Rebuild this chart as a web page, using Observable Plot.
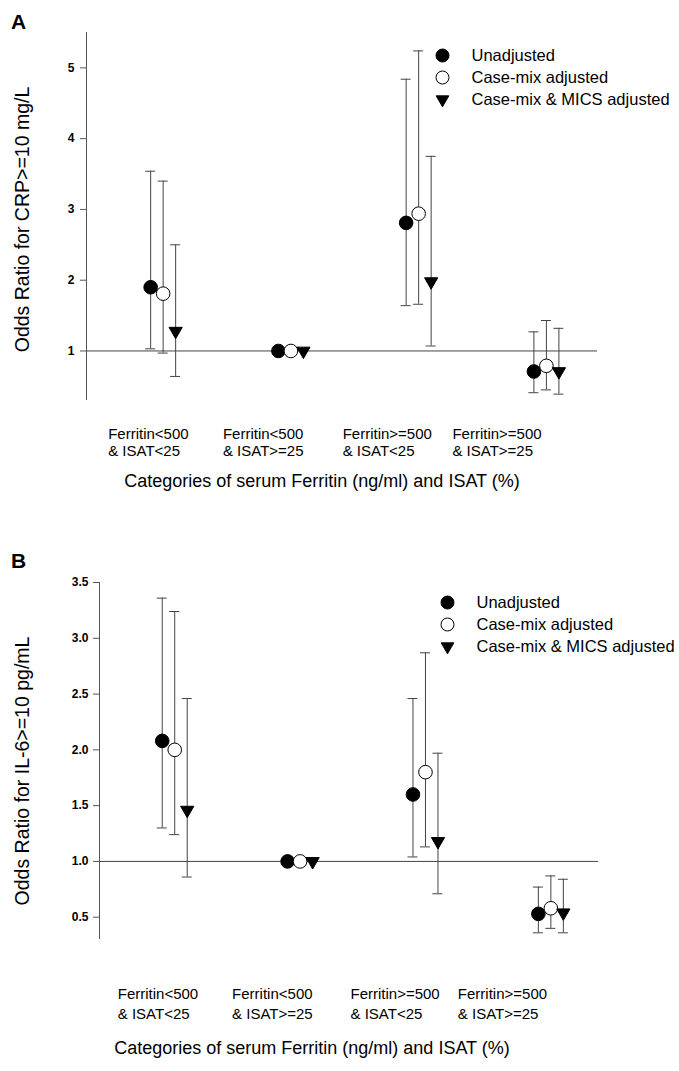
<!DOCTYPE html>
<html>
<head>
<meta charset="utf-8">
<script src="https://cdn.jsdelivr.net/npm/d3@7"></script>
<script src="https://cdn.jsdelivr.net/npm/@observablehq/plot@0.6"></script>
<style>
  html, body { margin: 0; padding: 0; background: #fff; }
  #chart svg { display: block; }
</style>
</head>
<body>
<div id="chart"></div>
<script>
// ---------- data ----------
const categories = ["Ferritin<500\n& ISAT<25", "Ferritin<500\n& ISAT>=25", "Ferritin>=500\n& ISAT<25", "Ferritin>=500\n& ISAT>=25"];
const seriesNames = ["Unadjusted", "Case-mix adjusted", "Case-mix & MICS adjusted"];
const xTitle = "Categories of serum Ferritin (ng/ml) and ISAT (%)";

// Panel A: CRP >= 10 mg/L
const crpUnadj   = [1.90, 1.00, 2.81, 0.71];
const crpUnadjLo = [1.03, 1.00, 1.64, 0.41];
const crpUnadjHi = [3.54, 1.00, 4.84, 1.27];
const crpCase    = [1.81, 1.00, 2.94, 0.79];
const crpCaseLo  = [0.97, 1.00, 1.66, 0.45];
const crpCaseHi  = [3.40, 1.00, 5.24, 1.43];
const crpMics    = [1.28, 1.00, 1.98, 0.71];
const crpMicsLo  = [0.64, 1.00, 1.07, 0.39];
const crpMicsHi  = [2.50, 1.00, 3.75, 1.32];
const crpTicks   = [1, 2, 3, 4, 5];

// Panel B: IL-6 >= 10 pg/mL
const il6Unadj   = [2.08, 1.00, 1.60, 0.53];
const il6UnadjLo = [1.30, 1.00, 1.04, 0.36];
const il6UnadjHi = [3.36, 1.00, 2.46, 0.77];
const il6Case    = [2.00, 1.00, 1.80, 0.58];
const il6CaseLo  = [1.24, 1.00, 1.13, 0.40];
const il6CaseHi  = [3.24, 1.00, 2.87, 0.87];
const il6Mics    = [1.46, 1.00, 1.18, 0.54];
const il6MicsLo  = [0.86, 1.00, 0.71, 0.36];
const il6MicsHi  = [2.46, 1.00, 1.97, 0.84];
const il6Ticks   = [0.5, 1.0, 1.5, 2.0, 2.5, 3.0, 3.5];

// ---------- styling ----------
const FONT = "'Liberation Sans', Arial, Helvetica, sans-serif";
const triangleDown = {
  draw(context, size) {
    const s = Math.sqrt(size);
    const w = s * 0.55, h = s * 0.95;
    context.moveTo(-w, -h / 3);
    context.lineTo(w, -h / 3);
    context.lineTo(0, 2 * h / 3);
    context.closePath();
  }
};
const seriesStyle = [
  {symbol: "circle", fill: "black", stroke: "black", dx: -12.5},
  {symbol: "circle", fill: "white", stroke: "black", dx: 0},
  {symbol: triangleDown, fill: "black", stroke: "black", dx: 12.5}
];
const labelDx = [-55, -68, -76, -94];

function rows(v, lo, hi) {
  return categories.map((c, i) => ({cat: i + 1, label: c, v: v[i], lo: lo[i], hi: hi[i]}));
}

function panel(cfg) {
  const marks = [];
  // y axis line
  marks.push(Plot.ruleX([cfg.xDomain[0]], {stroke: "#555", strokeWidth: 1}));
  marks.push(Plot.axisY({ticks: cfg.ticks, tickSize: 6, tickPadding: cfg.tickPadding, tickFormat: cfg.tickFormat,
    fontSize: 12, fontWeight: "bold", label: null, stroke: "#555", fill: "black"}));
  // reference line at OR = 1
  marks.push(Plot.ruleY([1], {stroke: "#444", strokeWidth: 1}));
  cfg.series.forEach((s, k) => {
    const st = seriesStyle[k];
    const ci = s.filter(d => d.lo !== d.hi);
    marks.push(Plot.ruleX(ci, {x: "cat", y1: "lo", y2: "hi", dx: st.dx, stroke: "#444", strokeWidth: 1}));
    marks.push(Plot.ruleY(ci, {y: "hi", x1: "cat", x2: "cat", insetLeft: -5, insetRight: -5, dx: st.dx, stroke: "#444", strokeWidth: 1}));
    marks.push(Plot.ruleY(ci, {y: "lo", x1: "cat", x2: "cat", insetLeft: -5, insetRight: -5, dx: st.dx, stroke: "#444", strokeWidth: 1}));
  });
  cfg.series.forEach((s, k) => {
    const st = seriesStyle[k];
    marks.push(Plot.dot(s, {x: "cat", y: "v", r: 6.8, symbol: () => st.symbol, fill: st.fill, stroke: st.stroke, strokeWidth: 1, dx: st.dx}));
  });
  // legend
  seriesNames.forEach((name, k) => {
    const st = seriesStyle[k];
    marks.push(Plot.dot([name], {frameAnchor: "top-left", dx: cfg.legend.dx, dy: cfg.legend.dy + k * 22,
      r: 6.5, symbol: () => st.symbol, fill: st.fill, stroke: st.stroke, strokeWidth: 1}));
    marks.push(Plot.text([name], {frameAnchor: "top-left", dx: cfg.legend.dx + 29, dy: cfg.legend.dy + k * 22,
      text: d => d, textAnchor: "start", lineAnchor: "middle", fontSize: 16.5, fill: "black"}));
  });
  // category labels
  categories.forEach((c, i) => {
    marks.push(Plot.text([c], {x: () => i + 1, frameAnchor: "bottom", text: d => d, textAnchor: "start",
      lineAnchor: "top", dx: labelDx[i] + cfg.labelShift[i], dy: cfg.catDy, fontSize: 15, lineHeight: cfg.catLineHeight, fill: "black"}));
  });
  // x title
  marks.push(Plot.text([xTitle], {frameAnchor: "bottom", text: d => d, lineAnchor: "middle", dx: cfg.titleDx, dy: cfg.titleDy, fontSize: 18, fill: "black"}));
  // y title
  marks.push(Plot.text([cfg.yLabel], {frameAnchor: "left", text: d => d, rotate: -90, textAnchor: "middle", lineAnchor: "middle",
    dx: cfg.yLabelDx, dy: cfg.yLabelDy, fontSize: 19.5, fill: "black"}));
  // panel letter
  marks.push(Plot.text([cfg.letter], {frameAnchor: "top-left", text: d => d, textAnchor: "middle", lineAnchor: "middle",
    dx: cfg.letterDx, dy: cfg.letterDy, fontSize: 21, fontWeight: "bold", fill: "black"}));

  return Plot.plot({
    width: 679,
    height: cfg.height,
    marginLeft: cfg.marginLeft,
    marginRight: cfg.marginRight,
    marginTop: cfg.marginTop,
    marginBottom: cfg.marginBottom,
    style: {fontFamily: FONT, fontSize: "12px", color: "black", background: "white", overflow: "visible"},
    x: {type: "linear", domain: cfg.xDomain, axis: null},
    y: {type: "linear", domain: cfg.yDomain, axis: null},
    marks
  });
}

const chartA = panel({
  height: 520, marginLeft: 86, marginRight: 82, marginTop: 32, marginBottom: 120,
  xDomain: [0.4, 4.4], yDomain: [0.3, 5.5],
  ticks: crpTicks, tickPadding: 6, tickFormat: d3.format("d"),
  series: [rows(crpUnadj, crpUnadjLo, crpUnadjHi), rows(crpCase, crpCaseLo, crpCaseHi), rows(crpMics, crpMicsLo, crpMicsHi)],
  legend: {dx: 356, dy: 23},
  labelShift: [0, 0, 0, 0], catDy: 26, catLineHeight: 1.15,
  titleDx: -20, titleDy: 81,
  yLabel: "Odds Ratio for CRP>=10 mg/L", yLabelDx: -64, yLabelDy: 3,
  letter: "A", letterDx: -68, letterDy: -10
});

const chartB = panel({
  height: 551, marginLeft: 99, marginRight: 81, marginTop: 62, marginBottom: 132,
  xDomain: [0.4, 4.38], yDomain: [0.3, 3.5],
  ticks: il6Ticks, tickPadding: 5, tickFormat: d3.format(".1f"),
  series: [rows(il6Unadj, il6UnadjLo, il6UnadjHi), rows(il6Case, il6CaseLo, il6CaseHi), rows(il6Mics, il6MicsLo, il6MicsHi)],
  legend: {dx: 348, dy: 20},
  labelShift: [-2, 0, 1, 1], catDy: 45, catLineHeight: 1.33,
  titleDx: -37, titleDy: 109,
  yLabel: "Odds Ratio for IL-6>=10 pg/mL", yLabelDx: -77, yLabelDy: 10,
  letter: "B", letterDx: -81, letterDy: -21
});

document.getElementById("chart").append(chartA, chartB);
</script>
</body>
</html>
